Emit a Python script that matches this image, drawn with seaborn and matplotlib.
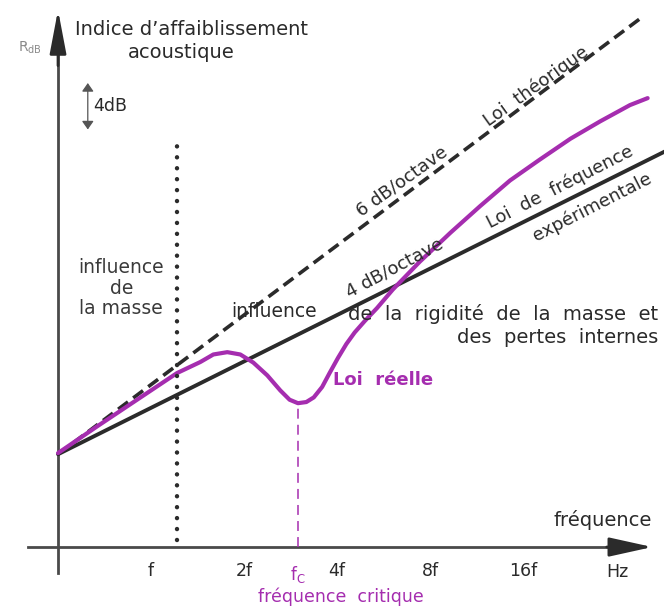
import matplotlib
matplotlib.use("Agg")
import matplotlib.pyplot as plt
import numpy as np
import pandas as pd
import seaborn as sns

# Frequency axis in octaves (0 = origin, one unit per octave)
octave_ticks = [1, 2, 3, 4, 5]
octave_labels = ["f", "2f", "4f", "8f", "16f"]
# Sound reduction index axis (dB), one tick every 4 dB
db_ticks = [4, 8, 12, 16, 20, 24, 28, 32, 36, 40]

# Mass law lines: common start level, slopes in dB per octave
start_db = 8
theory_slope = 6
exp_slope = 4
theory_oct = [0, 6.3]
exp_oct = [0, 6.55]

# Measured ("real") curve, with the coincidence dip near fc
real_oct = [0, 0.42, 0.85, 1.28, 1.53, 1.67, 1.82, 1.96, 2.10, 2.25, 2.39, 2.49,
            2.58, 2.67, 2.75, 2.84, 2.92, 3.01, 3.10, 3.19, 3.30, 3.43, 3.60,
            3.89, 4.22, 4.54, 4.86, 5.18, 5.51, 5.83, 6.15, 6.34]
real_db = [8.1, 10.4, 12.7, 15.0, 15.95, 16.6, 16.8, 16.6, 15.9, 14.8, 13.5, 12.7,
           12.4, 12.5, 12.9, 13.8, 15.0, 16.3, 17.5, 18.5, 19.5, 20.6, 22.2,
           24.6, 27.1, 29.4, 31.6, 33.4, 35.2, 36.7, 38.1, 38.7]

# Boundary of the mass-controlled region and critical frequency
mass_limit_oct = 1.28
mass_limit_db = [0.6, 35.1]
fc_oct = 2.58
fc_db = [0.0, 12.4]

DARK = "#2b2b2b"
PURPLE = "#a52daf"
AXIS = "#4a4a4a"
TXT = "#2a2a2a"

sns.set_theme(style="white")
plt.rcParams["font.family"] = ["DejaVu Sans"]

fig = plt.figure(figsize=(6.64, 6.07), dpi=100)
ax = fig.add_axes([0, 0, 1, 1])
ax.set_xlim(-0.624, 6.516)
ax.set_ylim(-5.17, 47.16)

theory = pd.DataFrame({"oct": theory_oct,
                       "db": [start_db + theory_slope * o for o in theory_oct]})
exper = pd.DataFrame({"oct": exp_oct,
                      "db": [start_db + exp_slope * o for o in exp_oct]})
real = pd.DataFrame({"oct": real_oct, "db": real_db})
mass_limit = pd.DataFrame({"oct": [mass_limit_oct] * 2, "db": mass_limit_db})
fc_line = pd.DataFrame({"oct": [fc_oct] * 2, "db": fc_db})

line_kw = dict(ax=ax, sort=False, estimator=None, dashes=False)
sns.lineplot(data=theory, x="oct", y="db", color=DARK, lw=2.6,
             linestyle=(0, (3.4, 1.8)), **line_kw)
sns.lineplot(data=exper, x="oct", y="db", color=DARK, lw=2.8, **line_kw)
sns.lineplot(data=real, x="oct", y="db", color=PURPLE, lw=3.0,
             solid_joinstyle="round", solid_capstyle="round", **line_kw)
sns.lineplot(data=mass_limit, x="oct", y="db", color=DARK, lw=3.2,
             linestyle=(0, (0.01, 2.45)), dash_capstyle="round", **line_kw)
sns.lineplot(data=fc_line, x="oct", y="db", color=PURPLE, lw=1.1,
             linestyle=(0, (6.5, 4)), **line_kw)
ax.set_xlabel("")
ax.set_ylabel("")

# Axes drawn through the origin, with arrow heads
for s in ["top", "right"]:
    ax.spines[s].set_visible(False)
ax.spines["left"].set_position(("data", 0))
ax.spines["bottom"].set_position(("data", 0))
ax.spines["left"].set_bounds(-2.2, 43)
ax.spines["bottom"].set_bounds(-0.32, 6.0)
for s in ["left", "bottom"]:
    ax.spines[s].set_color(AXIS)
    ax.spines[s].set_linewidth(2.0)
    ax.spines[s].set_zorder(1)

ax.annotate("", xy=(6.39, 0), xytext=(5.9, 0),
            arrowprops=dict(arrowstyle="-|>,head_length=1.9,head_width=0.42",
                            color=DARK, lw=2.0, shrinkA=0, shrinkB=0,
                            mutation_scale=14))
ax.annotate("", xy=(0, 46.3), xytext=(0, 41.5),
            arrowprops=dict(arrowstyle="-|>,head_length=1.9,head_width=0.36",
                            color=DARK, lw=2.0, shrinkA=0, shrinkB=0,
                            mutation_scale=14))

ax.set_yticks(db_ticks)
ax.tick_params(axis="y", direction="inout", length=9.5, width=2.3,
               color="#333333", labelleft=False)
ax.set_xticks(octave_ticks)
ax.set_xticklabels(octave_labels)
ax.tick_params(axis="x", direction="inout", length=9, width=1.6,
               color="#333333", labelsize=12.5, pad=6, labelcolor=TXT)
ax.grid(False)

# 4 dB scale marker
ax.annotate("", xy=(0.32, 40), xytext=(0.32, 36),
            arrowprops=dict(arrowstyle="<|-|>,head_length=0.5,head_width=0.35",
                            color="#555555", lw=0.9, shrinkA=0, shrinkB=0,
                            mutation_scale=10))
ax.text(0.38, 38.0, "4dB", fontsize=12.5, color=TXT, ha="left", va="center")

txt = dict(color=TXT, fontsize=14)
rtxt = dict(color=TXT, fontsize=13, rotation_mode="anchor",
            ha="center", va="center")
ax.text(-0.30, 43.0, r"R$_{\mathregular{dB}}$", color="#8a8a8a", fontsize=10,
        ha="center", va="center")
ax.text(0.18, 44.6, "Indice d\u2019affaiblissement", ha="left", va="center", **txt)
ax.text(1.33, 42.6, "acoustique", ha="center", va="center", **txt)
ax.text(0.68, 22.3, "influence\nde\nla masse", ha="center", va="center",
        multialignment="center", linespacing=1.1, color="#3a3a3a", fontsize=13.5)
ax.text(3.70, 31.55, "6 dB/octave", rotation=35.6, **rtxt)
ax.text(5.14, 39.7, "Loi  théorique", rotation=35.6, **rtxt)
ax.text(3.62, 24.1, "4 dB/octave", rotation=28, **rtxt)
ax.text(5.40, 31.0, "Loi  de  fréquence", rotation=27, **rtxt)
ax.text(5.74, 29.3, "expérimentale", rotation=27, **rtxt)
ax.text(2.32, 20.3, "influence", ha="center", va="center",
        color=TXT, fontsize=13.5)
ax.text(6.45, 19.1, "de  la  rigidité  de  la  masse  et\ndes  pertes  internes",
        ha="right", va="center", multialignment="right", linespacing=1.3, **txt)
ax.text(2.96, 14.4, "Loi  réelle", ha="left", va="center", color=PURPLE,
        fontsize=13, fontweight="bold")
ax.text(5.86, 2.33, "fréquence", ha="center", va="center", **txt)
ax.text(6.02, -2.16, "Hz", ha="center", va="center", fontsize=12.5, color=TXT)
ax.text(2.58, -2.35, r"f$_{\mathregular{C}}$", ha="center", va="center",
        color=PURPLE, fontsize=12)
ax.text(3.04, -4.3, "fréquence  critique", ha="center", va="center",
        color=PURPLE, fontsize=12.5)

fig.savefig("out.png", dpi=100, facecolor="white")
